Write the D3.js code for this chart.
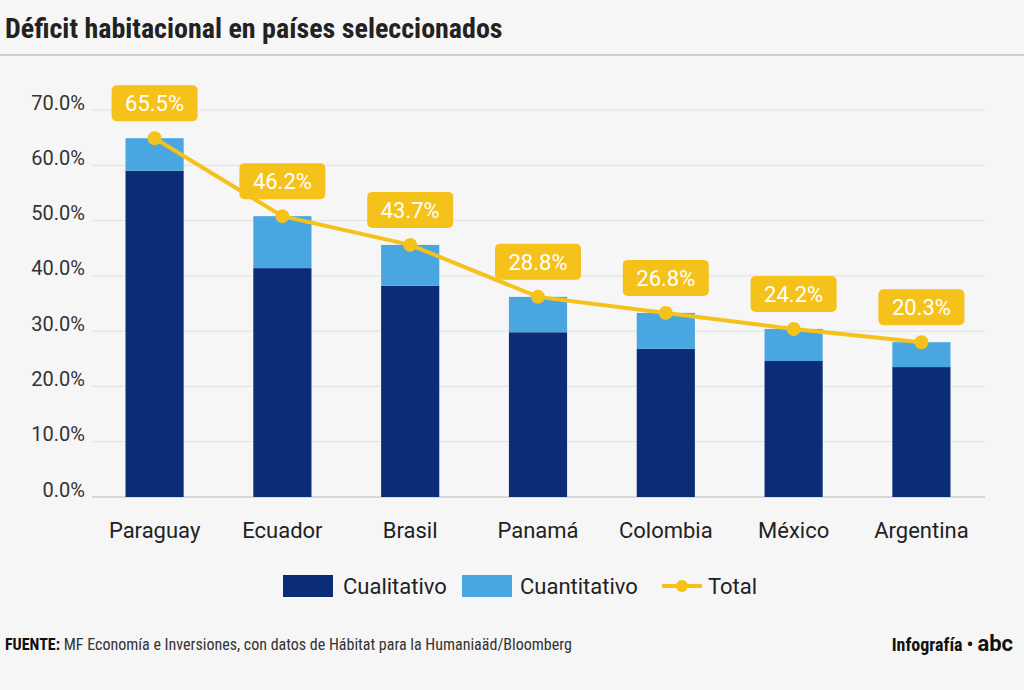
<!DOCTYPE html>
<html><head><meta charset="utf-8">
<script src="https://cdn.jsdelivr.net/npm/d3@7"></script>
<style>body{margin:0;background:#f6f6f6}svg{display:block}</style>
</head><body>
<svg id="c" width="1024" height="690"></svg>
<script>
const categories = ["Paraguay","Ecuador","Brasil","Panamá","Colombia","México","Argentina"];
const cualitativo = [59.0, 41.4, 38.2, 29.8, 26.8, 24.6, 23.5];
const cuantitativo = [5.9, 9.4, 7.4, 6.4, 6.5, 5.8, 4.5];
const totalLabels = ["65.5%","46.2%","43.7%","28.8%","26.8%","24.2%","20.3%"];
const yTicks = [0,10,20,30,40,50,60,70];

const dark="#0b2d78", light="#4aa6e0", yellow="#f5c21b";
const svg=d3.select("#c");
svg.append("rect").attr("width",1024).attr("height",690).attr("fill","#f6f6f6");
const font="Roboto, 'Liberation Sans', sans-serif";
const narrow="'Liberation Sans Narrow','Roboto Condensed',sans-serif";

svg.append("text").attr("x",5).attr("y",38).attr("font-family",narrow).attr("font-weight","bold")
  .attr("font-size",28).attr("fill","#222").text("Déficit habitacional en países seleccionados");
svg.append("line").attr("x1",0).attr("x2",1024).attr("y1",55).attr("y2",55).attr("stroke","#cfcfcf").attr("stroke-width",2);

const x=d3.scaleBand().domain(categories).range([91,985]).paddingInner(0.545).paddingOuter(0.27);
const y=d3.scaleLinear().domain([0,70]).range([497,110]);

const ya=svg.append("g").call(d3.axisLeft(y).tickValues(yTicks).tickFormat(d=>d.toFixed(1)+"%").tickSize(0));
ya.select(".domain").remove();
ya.selectAll("text").attr("x",85).attr("dy","-0.05em").attr("font-family",font).attr("font-size",20).attr("fill","#333");
svg.append("g").selectAll("line").data(yTicks).join("line")
  .attr("x1",92).attr("x2",985).attr("y1",d=>y(d)).attr("y2",d=>y(d))
  .attr("stroke",d=>d===0?"#bbb":"#e0e0e0").attr("stroke-width",1);

const xa=svg.append("g").attr("transform","translate(0,515)").call(d3.axisBottom(x).tickSize(0));
xa.select(".domain").remove();
xa.selectAll("text").attr("font-family",font).attr("font-size",22).attr("fill","#222").attr("dy","0.9em");

svg.append("g").selectAll("rect").data(categories).join("rect")
  .attr("x",d=>x(d)).attr("width",x.bandwidth())
  .attr("y",(d,i)=>y(cualitativo[i])).attr("height",(d,i)=>y(0)-y(cualitativo[i])).attr("fill",dark);
svg.append("g").selectAll("rect").data(categories).join("rect")
  .attr("x",d=>x(d)).attr("width",x.bandwidth())
  .attr("y",(d,i)=>y(cualitativo[i]+cuantitativo[i])).attr("height",(d,i)=>y(cualitativo[i])-y(cualitativo[i]+cuantitativo[i])).attr("fill",light);

const pts=categories.map((d,i)=>[x(d)+x.bandwidth()/2,y(cualitativo[i]+cuantitativo[i])]);
svg.append("path").attr("d",d3.line()(pts)).attr("fill","none").attr("stroke",yellow).attr("stroke-width",4);
svg.append("g").selectAll("circle").data(pts).join("circle").attr("cx",d=>d[0]).attr("cy",d=>d[1]).attr("r",7).attr("fill",yellow);
const lg=svg.append("g").selectAll("g").data(pts).join("g").attr("transform",d=>`translate(${d[0]},${d[1]-35})`);
lg.append("rect").attr("x",-43).attr("y",-18).attr("width",86).attr("height",36).attr("rx",5).attr("fill",yellow);
lg.append("text").attr("text-anchor","middle").attr("dy","0.36em").attr("font-family",font).attr("font-size",22)
  .attr("fill","#fff").text((d,i)=>totalLabels[i]);

const L=svg.append("g").attr("font-family",font).attr("font-size",22).attr("fill","#222");
L.append("rect").attr("x",283).attr("y",575).attr("width",50).attr("height",22).attr("fill",dark);
L.append("text").attr("x",343).attr("y",594).text("Cualitativo");
L.append("rect").attr("x",462).attr("y",575).attr("width",50).attr("height",22).attr("fill",light);
L.append("text").attr("x",520).attr("y",594).text("Cuantitativo");
L.append("line").attr("x1",662).attr("x2",702).attr("y1",586).attr("y2",586).attr("stroke",yellow).attr("stroke-width",4);
L.append("circle").attr("cx",682).attr("cy",586).attr("r",6).attr("fill",yellow);
L.append("text").attr("x",708).attr("y",594).text("Total");

const f=svg.append("text").attr("x",5).attr("y",650).attr("font-family",narrow).attr("font-size",16).attr("fill","#333");
f.append("tspan").attr("font-weight","bold").attr("fill","#111").text("FUENTE: ");
f.append("tspan").text("MF Economía e Inversiones, con datos de Hábitat para la Humaniaäd/Bloomberg");
const r=svg.append("text").attr("x",1013).attr("y",651).attr("text-anchor","end").attr("font-family",narrow).attr("font-size",18).attr("fill","#111");
r.append("tspan").attr("font-weight","bold").text("Infografía • ");
r.append("tspan").attr("font-weight","bold").attr("font-family",font).attr("font-size",22).text("abc");
</script>
</body></html>
